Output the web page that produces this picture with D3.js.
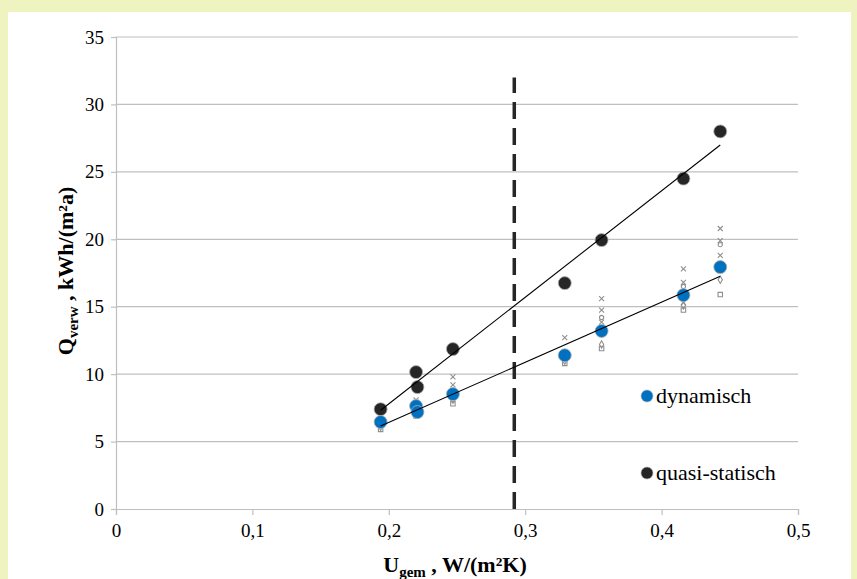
<!DOCTYPE html>
<html><head><meta charset="utf-8">
<script src="https://cdn.jsdelivr.net/npm/d3@7"></script>
<style>
body{margin:0;background:#eff3c0;}
svg{display:block;}
</style></head>
<body>
<svg id="c" width="857" height="579"></svg>
<script>
// ---- data ----
const uValues = [0.194, 0.22, 0.221, 0.247, 0.329, 0.356, 0.416, 0.443];
const quasiStatisch = [7.4, 10.15, 9.04, 11.86, 16.75, 19.94, 24.5, 28.0];
const dynamisch = [6.45, 7.63, 7.19, 8.52, 11.4, 13.2, 15.86, 17.94];
const variantA = [6.7, 8.1, null, 9.8, 12.7, 15.6, 17.8, 20.8];   // cross
const variantB = [6.5, 7.9, null, 9.2, 11.6, 14.75, 16.8, 19.9];  // cross
const variantC = [6.3, 7.4, null, 8.8, 11.2, 14.2, 16.5, 19.6];   // circle
const variantD = [6.2, 7.3, null, 8.3, 11.1, 13.86, 15.3, 18.8];  // cross
const variantE = [6.1, 7.1, null, 8.1, 11.0, 12.2, 15.1, 17.0];   // diamond
const variantF = [5.9, 6.9, null, 7.8, 10.8, 11.9, 14.75, 15.9];  // square
const xTicks = [0, 0.1, 0.2, 0.3, 0.4, 0.5];
const yTicks = [0, 5, 10, 15, 20, 25, 30, 35];
const limitU = 0.292;
const limitTop = 32;
const legendNames = ["dynamisch", "quasi-statisch"];

// ---- layout ----
const svg = d3.select("#c");
const L = 116, R = 798, T = 37, B = 509;
const x = d3.scaleLinear().domain([0, 0.5]).range([L, R]);
const y = d3.scaleLinear().domain([0, 35]).range([B, T]);
const fmtX = d => d === 0 ? "0" : String(d).replace(".", ",");
const font = "'Liberation Serif','Times New Roman',serif";

svg.append("rect").attr("x", 8).attr("y", 12).attr("width", 843).attr("height", 567).attr("fill", "#fff");

// gridlines
svg.append("g").selectAll("line").data(yTicks.filter(d => d > 0)).join("line")
  .attr("x1", L).attr("x2", R).attr("y1", d => y(d)).attr("y2", d => y(d))
  .attr("stroke", "#bfbfbf").attr("stroke-width", 1.2);

// axes
const yAxis = svg.append("g").attr("transform", `translate(${L},0)`)
  .call(d3.axisLeft(y).tickValues(yTicks).tickSize(5).tickPadding(7).tickFormat(d => String(d)));
const xAxis = svg.append("g").attr("transform", `translate(0,${B})`)
  .call(d3.axisBottom(x).tickValues(xTicks).tickSize(6).tickPadding(9).tickFormat(fmtX));
[yAxis, xAxis].forEach(g => {
  g.select(".domain").attr("stroke", "#bfbfbf").attr("stroke-width", 1.2);
  g.selectAll(".tick line").attr("stroke", "#bfbfbf").attr("stroke-width", 1.2);
  g.selectAll("text").attr("fill", "#000").style("font-family", font).style("font-size", "19px");
});

// dashed limit line
svg.append("line").attr("x1", x(limitU)).attr("x2", x(limitU)).attr("y1", y(0)).attr("y2", y(limitTop))
  .attr("stroke", "#262626").attr("stroke-width", 3.5).attr("stroke-dasharray", "17,9");

// gray variant markers
const gray = "#8f8f8f";
function pts(arr) { return uValues.map((u, i) => ({u, v: arr[i]})).filter(d => d.v != null); }
function drawCross(arr) {
  svg.append("g").selectAll("path").data(pts(arr)).join("path")
    .attr("transform", d => `translate(${x(d.u)},${y(d.v)})`)
    .attr("d", "M-2.5,-2.5L2.5,2.5M-2.5,2.5L2.5,-2.5").attr("stroke", gray).attr("stroke-width", 1.1).attr("fill", "none");
}
function drawSym(arr, sym, size) {
  svg.append("g").selectAll("path").data(pts(arr)).join("path")
    .attr("transform", d => `translate(${x(d.u)},${y(d.v)})`)
    .attr("d", d3.symbol(sym).size(size)).attr("stroke", gray).attr("stroke-width", 1.1).attr("fill", "none");
}
drawCross(variantA);
drawCross(variantB);
drawSym(variantC, d3.symbolCircle, 14);
drawCross(variantD);
drawSym(variantE, d3.symbolDiamond, 16);
drawSym(variantF, d3.symbolSquare, 20);

// regression lines
function fit(arr) {
  const mx = d3.mean(uValues), my = d3.mean(arr);
  let sxy = 0, sxx = 0;
  uValues.forEach((u, i) => { sxy += (u - mx) * (arr[i] - my); sxx += (u - mx) * (u - mx); });
  const b = sxy / sxx, a = my - b * mx;
  const x0 = d3.min(uValues), x1 = d3.max(uValues);
  return [[x0, a + b * x0], [x1, a + b * x1]];
}
const line = d3.line().x(d => x(d[0])).y(d => y(d[1]));

// main markers
function drawDots(arr, color) {
  svg.append("g").selectAll("circle").data(pts(arr)).join("circle")
    .attr("cx", d => x(d.u)).attr("cy", d => y(d.v)).attr("r", 6.5)
    .attr("fill", color).attr("stroke", "#b0b0b0").attr("stroke-width", 0.8);
}
drawDots(quasiStatisch, "#262626");
drawDots(dynamisch, "#0070c0");
svg.append("path").attr("d", line(fit(quasiStatisch))).attr("stroke", "#000").attr("stroke-width", 1.1).attr("fill", "none");
svg.append("path").attr("d", line(fit(dynamisch))).attr("stroke", "#000").attr("stroke-width", 1.1).attr("fill", "none");

// legend
const legColors = ["#0070c0", "#262626"];
const legY = [396, 473];
legendNames.forEach((nm, i) => {
  svg.append("circle").attr("cx", 647).attr("cy", legY[i]).attr("r", 6).attr("fill", legColors[i]).attr("stroke", "#b0b0b0").attr("stroke-width", 0.6);
  svg.append("text").attr("x", 656).attr("y", legY[i] + 7).text(nm)
    .style("font-family", font).style("font-size", "22px").attr("fill", "#000");
});

// axis titles
const xt = svg.append("text").attr("x", 455).attr("y", 572).attr("text-anchor", "middle")
  .style("font-family", font).style("font-size", "22px").style("font-weight", "bold");
xt.append("tspan").text("U");
xt.append("tspan").text("gem").attr("dy", 5).style("font-size", "15px");
xt.append("tspan").text(" , W/(m²K)").attr("dy", -5);

const yt = svg.append("text").attr("transform", "translate(73,271) rotate(-90)").attr("text-anchor", "middle")
  .style("font-family", font).style("font-size", "22px").style("font-weight", "bold");
yt.append("tspan").text("Q");
yt.append("tspan").text("verw").attr("dy", 5).style("font-size", "15px");
yt.append("tspan").text(" , kWh/(m²a)").attr("dy", -5);
</script>
</body></html>
